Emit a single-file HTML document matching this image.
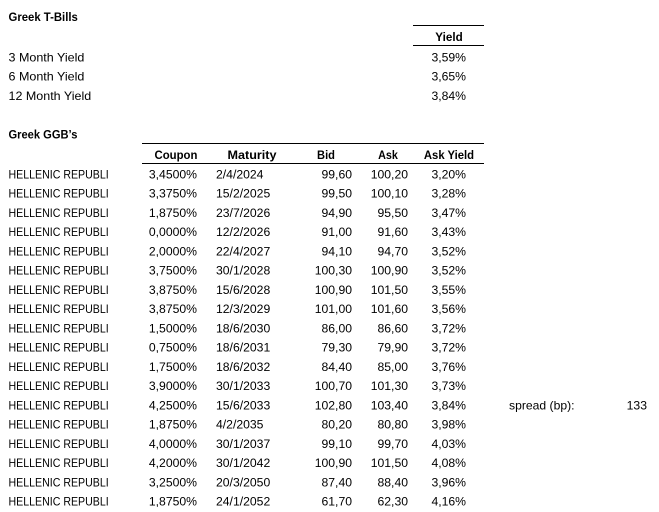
<!DOCTYPE html>
<html><head><meta charset="utf-8">
<style>
html,body{margin:0;padding:0;background:#fff;}
svg{display:block;}
text{font-family:"Liberation Sans",Arial,sans-serif;fill:#000;}
.t{font-size:12px;}
.b{font-size:12px;font-weight:bold;}
.n{font-size:12.2px;}
.r{text-anchor:end;}
.m{text-anchor:middle;}
</style></head>
<body>
<svg width="659" height="512" viewBox="0 0 659 512" xmlns="http://www.w3.org/2000/svg">
<rect width="659" height="512" fill="#fff"/>
<!-- T-Bills -->
<text class="b" x="8.5" y="21" textLength="69.3" lengthAdjust="spacingAndGlyphs">Greek T-Bills</text>
<line x1="413" y1="25.5" x2="484" y2="25.5" stroke="#000" stroke-width="1"/>
<line x1="413" y1="45.5" x2="484" y2="45.5" stroke="#000" stroke-width="1"/>
<text class="b m" x="449" y="41" textLength="27.4" lengthAdjust="spacingAndGlyphs">Yield</text>
<text class="t" x="8.5" y="61.3" textLength="75.9" lengthAdjust="spacingAndGlyphs">3 Month Yield</text>
<text class="t" x="8.5" y="80.5" textLength="75.9" lengthAdjust="spacingAndGlyphs">6 Month Yield</text>
<text class="t" x="8.5" y="99.8" textLength="82.7" lengthAdjust="spacingAndGlyphs">12 Month Yield</text>
<text class="n r" x="466" y="61.3">3,59%</text>
<text class="n r" x="466" y="80.5">3,65%</text>
<text class="n r" x="466" y="99.8">3,84%</text>

<!-- GGBs -->
<text class="b" x="8.5" y="138.5" textLength="68.9" lengthAdjust="spacingAndGlyphs">Greek GGB’s</text>
<line x1="142" y1="143.5" x2="484" y2="143.5" stroke="#000" stroke-width="1"/>
<line x1="142" y1="163.5" x2="484" y2="163.5" stroke="#000" stroke-width="1"/>
<text class="b m" x="176" y="159" textLength="42.9" lengthAdjust="spacingAndGlyphs">Coupon</text>
<text class="b m" x="252" y="159" textLength="49" lengthAdjust="spacingAndGlyphs">Maturity</text>
<text class="b m" x="326" y="159" textLength="17.9" lengthAdjust="spacingAndGlyphs">Bid</text>
<text class="b m" x="388" y="159" textLength="19.8" lengthAdjust="spacingAndGlyphs">Ask</text>
<text class="b m" x="449" y="159" textLength="50.2" lengthAdjust="spacingAndGlyphs">Ask Yield</text>

<g id="rows">
<!-- row y = 178.5 + 19.24*i -->
<g transform="translate(0,178.5)">
<text class="t" x="8.5" y="0" textLength="100.2" lengthAdjust="spacingAndGlyphs">HELLENIC REPUBLI</text>
<text class="n r" x="197" y="0">3,4500%</text><text class="n" x="216" y="0">2/4/2024</text>
<text class="n r" x="352" y="0">99,60</text><text class="n r" x="408" y="0">100,20</text><text class="n r" x="466" y="0">3,20%</text>
</g>
<g transform="translate(0,197.74)">
<text class="t" x="8.5" y="0" textLength="100.2" lengthAdjust="spacingAndGlyphs">HELLENIC REPUBLI</text>
<text class="n r" x="197" y="0">3,3750%</text><text class="n" x="216" y="0">15/2/2025</text>
<text class="n r" x="352" y="0">99,50</text><text class="n r" x="408" y="0">100,10</text><text class="n r" x="466" y="0">3,28%</text>
</g>
<g transform="translate(0,216.98)">
<text class="t" x="8.5" y="0" textLength="100.2" lengthAdjust="spacingAndGlyphs">HELLENIC REPUBLI</text>
<text class="n r" x="197" y="0">1,8750%</text><text class="n" x="216" y="0">23/7/2026</text>
<text class="n r" x="352" y="0">94,90</text><text class="n r" x="408" y="0">95,50</text><text class="n r" x="466" y="0">3,47%</text>
</g>
<g transform="translate(0,236.22)">
<text class="t" x="8.5" y="0" textLength="100.2" lengthAdjust="spacingAndGlyphs">HELLENIC REPUBLI</text>
<text class="n r" x="197" y="0">0,0000%</text><text class="n" x="216" y="0">12/2/2026</text>
<text class="n r" x="352" y="0">91,00</text><text class="n r" x="408" y="0">91,60</text><text class="n r" x="466" y="0">3,43%</text>
</g>
<g transform="translate(0,255.46)">
<text class="t" x="8.5" y="0" textLength="100.2" lengthAdjust="spacingAndGlyphs">HELLENIC REPUBLI</text>
<text class="n r" x="197" y="0">2,0000%</text><text class="n" x="216" y="0">22/4/2027</text>
<text class="n r" x="352" y="0">94,10</text><text class="n r" x="408" y="0">94,70</text><text class="n r" x="466" y="0">3,52%</text>
</g>
<g transform="translate(0,274.7)">
<text class="t" x="8.5" y="0" textLength="100.2" lengthAdjust="spacingAndGlyphs">HELLENIC REPUBLI</text>
<text class="n r" x="197" y="0">3,7500%</text><text class="n" x="216" y="0">30/1/2028</text>
<text class="n r" x="352" y="0">100,30</text><text class="n r" x="408" y="0">100,90</text><text class="n r" x="466" y="0">3,52%</text>
</g>
<g transform="translate(0,293.94)">
<text class="t" x="8.5" y="0" textLength="100.2" lengthAdjust="spacingAndGlyphs">HELLENIC REPUBLI</text>
<text class="n r" x="197" y="0">3,8750%</text><text class="n" x="216" y="0">15/6/2028</text>
<text class="n r" x="352" y="0">100,90</text><text class="n r" x="408" y="0">101,50</text><text class="n r" x="466" y="0">3,55%</text>
</g>
<g transform="translate(0,313.18)">
<text class="t" x="8.5" y="0" textLength="100.2" lengthAdjust="spacingAndGlyphs">HELLENIC REPUBLI</text>
<text class="n r" x="197" y="0">3,8750%</text><text class="n" x="216" y="0">12/3/2029</text>
<text class="n r" x="352" y="0">101,00</text><text class="n r" x="408" y="0">101,60</text><text class="n r" x="466" y="0">3,56%</text>
</g>
<g transform="translate(0,332.42)">
<text class="t" x="8.5" y="0" textLength="100.2" lengthAdjust="spacingAndGlyphs">HELLENIC REPUBLI</text>
<text class="n r" x="197" y="0">1,5000%</text><text class="n" x="216" y="0">18/6/2030</text>
<text class="n r" x="352" y="0">86,00</text><text class="n r" x="408" y="0">86,60</text><text class="n r" x="466" y="0">3,72%</text>
</g>
<g transform="translate(0,351.66)">
<text class="t" x="8.5" y="0" textLength="100.2" lengthAdjust="spacingAndGlyphs">HELLENIC REPUBLI</text>
<text class="n r" x="197" y="0">0,7500%</text><text class="n" x="216" y="0">18/6/2031</text>
<text class="n r" x="352" y="0">79,30</text><text class="n r" x="408" y="0">79,90</text><text class="n r" x="466" y="0">3,72%</text>
</g>
<g transform="translate(0,370.9)">
<text class="t" x="8.5" y="0" textLength="100.2" lengthAdjust="spacingAndGlyphs">HELLENIC REPUBLI</text>
<text class="n r" x="197" y="0">1,7500%</text><text class="n" x="216" y="0">18/6/2032</text>
<text class="n r" x="352" y="0">84,40</text><text class="n r" x="408" y="0">85,00</text><text class="n r" x="466" y="0">3,76%</text>
</g>
<g transform="translate(0,390.14)">
<text class="t" x="8.5" y="0" textLength="100.2" lengthAdjust="spacingAndGlyphs">HELLENIC REPUBLI</text>
<text class="n r" x="197" y="0">3,9000%</text><text class="n" x="216" y="0">30/1/2033</text>
<text class="n r" x="352" y="0">100,70</text><text class="n r" x="408" y="0">101,30</text><text class="n r" x="466" y="0">3,73%</text>
</g>
<g transform="translate(0,409.38)">
<text class="t" x="8.5" y="0" textLength="100.2" lengthAdjust="spacingAndGlyphs">HELLENIC REPUBLI</text>
<text class="n r" x="197" y="0">4,2500%</text><text class="n" x="216" y="0">15/6/2033</text>
<text class="n r" x="352" y="0">102,80</text><text class="n r" x="408" y="0">103,40</text><text class="n r" x="466" y="0">3,84%</text>
<text class="t" x="509" y="0" textLength="65.5" lengthAdjust="spacingAndGlyphs">spread (bp):</text>
<text class="n r" x="647" y="0">133</text>
</g>
<g transform="translate(0,428.62)">
<text class="t" x="8.5" y="0" textLength="100.2" lengthAdjust="spacingAndGlyphs">HELLENIC REPUBLI</text>
<text class="n r" x="197" y="0">1,8750%</text><text class="n" x="216" y="0">4/2/2035</text>
<text class="n r" x="352" y="0">80,20</text><text class="n r" x="408" y="0">80,80</text><text class="n r" x="466" y="0">3,98%</text>
</g>
<g transform="translate(0,447.86)">
<text class="t" x="8.5" y="0" textLength="100.2" lengthAdjust="spacingAndGlyphs">HELLENIC REPUBLI</text>
<text class="n r" x="197" y="0">4,0000%</text><text class="n" x="216" y="0">30/1/2037</text>
<text class="n r" x="352" y="0">99,10</text><text class="n r" x="408" y="0">99,70</text><text class="n r" x="466" y="0">4,03%</text>
</g>
<g transform="translate(0,467.1)">
<text class="t" x="8.5" y="0" textLength="100.2" lengthAdjust="spacingAndGlyphs">HELLENIC REPUBLI</text>
<text class="n r" x="197" y="0">4,2000%</text><text class="n" x="216" y="0">30/1/2042</text>
<text class="n r" x="352" y="0">100,90</text><text class="n r" x="408" y="0">101,50</text><text class="n r" x="466" y="0">4,08%</text>
</g>
<g transform="translate(0,486.34)">
<text class="t" x="8.5" y="0" textLength="100.2" lengthAdjust="spacingAndGlyphs">HELLENIC REPUBLI</text>
<text class="n r" x="197" y="0">3,2500%</text><text class="n" x="216" y="0">20/3/2050</text>
<text class="n r" x="352" y="0">87,40</text><text class="n r" x="408" y="0">88,40</text><text class="n r" x="466" y="0">3,96%</text>
</g>
<g transform="translate(0,505.58)">
<text class="t" x="8.5" y="0" textLength="100.2" lengthAdjust="spacingAndGlyphs">HELLENIC REPUBLI</text>
<text class="n r" x="197" y="0">1,8750%</text><text class="n" x="216" y="0">24/1/2052</text>
<text class="n r" x="352" y="0">61,70</text><text class="n r" x="408" y="0">62,30</text><text class="n r" x="466" y="0">4,16%</text>
</g>
</g>
</svg>
</body></html>
